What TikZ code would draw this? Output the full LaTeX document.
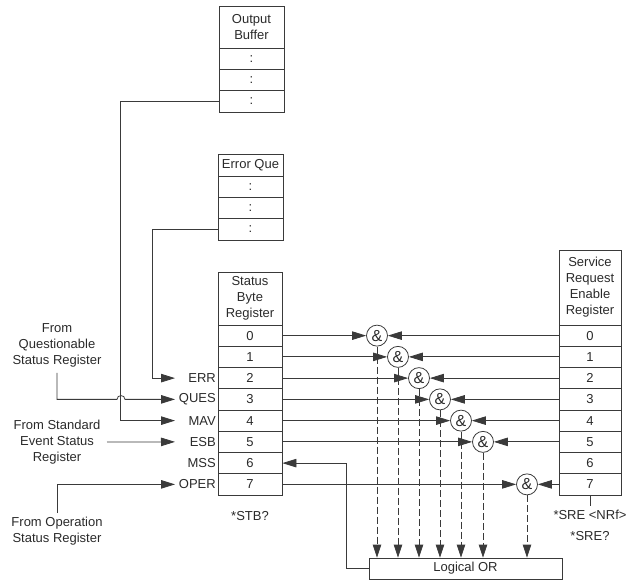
\documentclass[tikz,border=0pt]{standalone}
\usepackage{fontspec}
\setmainfont{Liberation Sans}
\usetikzlibrary{arrows.meta}
\definecolor{ln}{HTML}{3A3A3A}
\definecolor{tx}{HTML}{2A2A2A}
\begin{document}
\begin{tikzpicture}[x=1pt,y=-1pt,
  every node/.style={text=tx,font=\fontsize{13}{16}\selectfont},
  cell/.style={draw=ln,line width=0.8pt,minimum width=64pt,minimum height=21.25pt,inner sep=0pt},
  hdr/.style={cell,align=center},
  andc/.style={draw=ln,line width=0.8pt,circle,minimum size=21pt,inner sep=0pt,font=\fontsize{16}{16}\selectfont},
  wire/.style={draw=ln,line width=0.8pt},
  tri/.style={wire,-{Triangle[length=14pt,width=8.5pt]}},
  dtri/.style={wire,dash pattern=on 7pt off 3pt,-{Triangle[length=13pt,width=8.5pt]}},
  lbl/.style={anchor=east,inner sep=1pt},
  src/.style={align=center,inner sep=0pt}]
\useasboundingbox (0,0) rectangle (633,583);
% Output Buffer
\node[hdr,minimum width=65pt,minimum height=42pt] (obh) at (251.5,27) {Output\\Buffer};
\foreach \i in {1,2,3}{\node[cell,minimum width=65pt] (ob\i) at (251.5,{48+21.33*(\i-0.5)}) {:};}
% Error Que
\node[hdr,minimum width=65pt,minimum height=22pt] (eqh) at (250.5,165) {Error Que};
\foreach \i in {1,2,3}{\node[cell,minimum width=65pt] (eq\i) at (250.5,{176+21.33*(\i-0.5)}) {:};}
% Status Byte Register
\node[hdr,minimum height=53pt] (sh) at (250,298.5) {Status\\Byte\\Register};
\foreach \i in {0,...,7}{\node[cell] (s\i) at (250,{325+21.25*(\i+0.5)}) {\i};}
% Service Request Enable Register
\node[hdr,minimum width=62pt,minimum height=75pt] (rh) at (590,287.5) {Service\\Request\\Enable\\Register};
\foreach \i in {0,...,7}{\node[cell,minimum width=62pt] (r\i) at (590,{325+21.25*(\i+0.5)}) {\i};}
% AND gates
\foreach \i/\x in {0/377,1/398,2/419,3/440,4/461,5/483,7/527}{
  \node[andc] (a\i) at (\x,{325+21.25*(\i+0.5)}) {\&};
}
% Logical OR
\node[draw=ln,line width=0.8pt,minimum width=193pt,minimum height=21pt,inner sep=0pt] (lor) at (465.5,568.5) {Logical OR};
% connections to gates
\foreach \i in {0,1,2,3,4,5,7}{
  \draw[tri] (s\i.east) -- (a\i.west);
  \draw[tri] (r\i.west) -- (a\i.east);
}
\foreach \i in {0,1,2,3,4,5,7}{
  \draw[dtri] (a\i.south) -- (a\i.south |- lor.north);
}
% feedback
\draw[tri] (lor.west) -- ++(-22,0) |- (s6.east);
% left labels
\node[lbl] (lerr) at (217,{325+21.25*2.5}) {ERR};
\node[lbl] (lques) at (217,{325+21.25*3.5}) {QUES};
\node[lbl] (lmav) at (217,{325+21.25*4.5}) {MAV};
\node[lbl] (lesb) at (217,{325+21.25*5.5}) {ESB};
\node[lbl] (lmss) at (217,{325+21.25*6.5}) {MSS};
\node[lbl] (loper) at (217,{325+21.25*7.5}) {OPER};
\coordinate (terr) at (175,{325+21.25*2.5});
\coordinate (tques) at (175,{325+21.25*3.5});
\coordinate (tmav) at (175,{325+21.25*4.5});
\coordinate (tesb) at (175,{325+21.25*5.5});
\coordinate (toper) at (175,{325+21.25*7.5});
% sources
\node[src] (fq) at (57,345) {From\\Questionable\\Status Register};
\node[src] (fs) at (57,442) {From Standard\\Event Status\\Register};
\node[src] (fo) at (57,531) {From Operation\\Status Register};
\coordinate (fqs) at (57,373);
\coordinate (fss) at (107,442);
\coordinate (fos) at (57,513);
\coordinate (h1) at (117,399.375);
\coordinate (h2) at (125,399.375);
% wires from buffers
\draw[tri] (eq3.west) -- ++(-65.5,0) |- (terr);
\draw[tri] (ob3.west) -- ++(-98,0) |- (tmav);
\draw[tri] (fqs) |- (h1) .. controls +(0,-5) and +(0,-5) .. (h2) -- (tques);
\draw[tri] (fss) -- (tesb);
\draw[tri] (fos) |- (toper);
% bottom texts
\node (stb) at (250,516) {*STB?};
\coordinate (tk) at (590,506);
\draw[wire] (r7.south) -- (tk);
\node (sre1) at (590,515) {*SRE <NRf>};
\node (sre2) at (590,536) {*SRE?};
\end{tikzpicture}
\end{document}
